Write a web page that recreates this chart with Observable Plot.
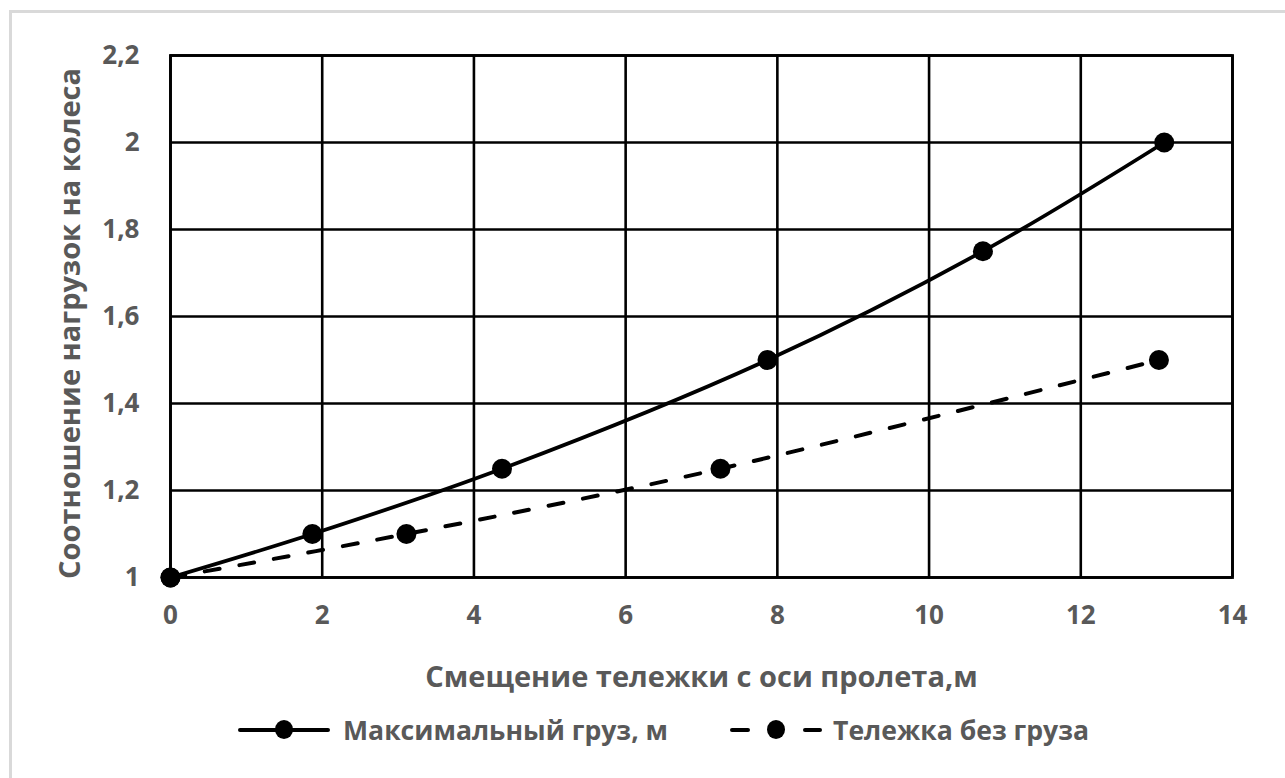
<!DOCTYPE html>
<html>
<head>
<meta charset="utf-8">
<script src="https://cdn.jsdelivr.net/npm/d3@7"></script>
<script src="https://cdn.jsdelivr.net/npm/@observablehq/plot@0.6"></script>
<style>
  html, body { margin: 0; padding: 0; background: #fff; }
  #wrap { position: relative; width: 1285px; height: 778px; overflow: hidden; font-family: "Open Sans", Lato, sans-serif; }
  #border { position: absolute; left: 9px; top: 10px; width: 1300px; height: 800px; border: 3px solid #d9d9d9; box-sizing: border-box; }
  #chart { position: absolute; left: 0; top: 0; }
  #legend { position: absolute; left: 0; top: 705px; width: 1285px; height: 50px; font-weight: 700; font-size: 26.6px; color: #595959; }
  .seg { position: absolute; height: 4px; background: #000; top: 23px; border-radius: 2px; }
  .dot { position: absolute; width: 18px; height: 19px; border-radius: 50%; background: #000; top: 15px; }
  .lbl { position: absolute; top: 0; height: 50px; line-height: 50px; white-space: nowrap; }
</style>
</head>
<body>
<div id="wrap">
  <div id="border"></div>
  <div id="chart"></div>
  <div id="legend"></div>
</div>
<script>
// Data
const seriesNames = ["Максимальный груз, м", "Тележка без груза"];
const xMax = [0, 1.87, 4.37, 7.87, 10.71, 13.1];
const yMax = [1, 1.1, 1.25, 1.5, 1.75, 2.0];
const xEmpty = [0, 3.11, 7.25, 13.03];
const yEmpty = [1, 1.1, 1.25, 1.5];
const xTicks = [0, 2, 4, 6, 8, 10, 12, 14];
const yTicks = [1, 1.2, 1.4, 1.6, 1.8, 2.0, 2.2];
const xTitle = "Смещение тележки с оси пролета,м";
const yTitle = "Соотношение нагрузок на колеса";

const maxData = xMax.map((x, i) => ({x, y: yMax[i]}));
const emptyData = xEmpty.map((x, i) => ({x, y: yEmpty[i]}));
const fmt = d => String(+d.toFixed(1)).replace(".", ",");

const gray = "#595959";
const chart = Plot.plot({
  width: 1285,
  height: 700,
  marginLeft: 170,
  marginRight: 53,
  marginTop: 55,
  marginBottom: 123,
  style: {fontFamily: "'Open Sans', Lato, sans-serif", fontSize: "26px", fontWeight: 700, color: gray, background: "transparent"},
  x: {domain: [0, 14], ticks: xTicks},
  y: {domain: [1, 2.2], ticks: yTicks},
  marks: [
    Plot.gridX(xTicks, {stroke: "#000", strokeOpacity: 1, strokeWidth: 2.6}),
    Plot.gridY(yTicks, {stroke: "#000", strokeOpacity: 1, strokeWidth: 2.6}),
    Plot.frame({stroke: "#000", strokeWidth: 2.8}),
    Plot.axisX(xTicks, {tickSize: 0, tickPadding: 28, tickFormat: fmt, label: null, fill: gray}),
    Plot.axisY(yTicks, {tickSize: 0, tickPadding: 31, tickFormat: fmt, label: null, fill: gray}),
    Plot.line(emptyData, {x: "x", y: "y", curve: "catmull-rom", stroke: "#000", strokeWidth: 4, strokeDasharray: "15,20", strokeLinecap: "round"}),
    Plot.line(maxData, {x: "x", y: "y", curve: "catmull-rom", stroke: "#000", strokeWidth: 3.8}),
    Plot.dot(emptyData, {x: "x", y: "y", r: 10, fill: "#000", stroke: null}),
    Plot.dot(maxData, {x: "x", y: "y", r: 10, fill: "#000", stroke: null}),
    Plot.text([xTitle], {frameAnchor: "bottom", textAnchor: "middle", lineAnchor: "middle", dy: 100, fill: gray, fontSize: 29, fontWeight: 700, text: d => d}),
    Plot.text([yTitle], {frameAnchor: "left", textAnchor: "middle", lineAnchor: "middle", dx: -100, dy: 7, rotate: -90, fill: gray, fontSize: 29, fontWeight: 700, text: d => d})
  ]
});
document.getElementById("chart").appendChild(chart);

// Legend (HTML below the chart)
const legend = document.getElementById("legend");
legend.innerHTML = `
  <div class="seg" style="left:238px;width:92px"></div>
  <div class="dot" style="left:275px"></div>
  <div class="lbl" style="left:343px">${seriesNames[0]}</div>
  <div class="seg" style="left:730px;width:20px"></div>
  <div class="dot" style="left:767px"></div>
  <div class="seg" style="left:803px;width:19px"></div>
  <div class="lbl" style="left:833px">${seriesNames[1]}</div>
`;
</script>
</body>
</html>
